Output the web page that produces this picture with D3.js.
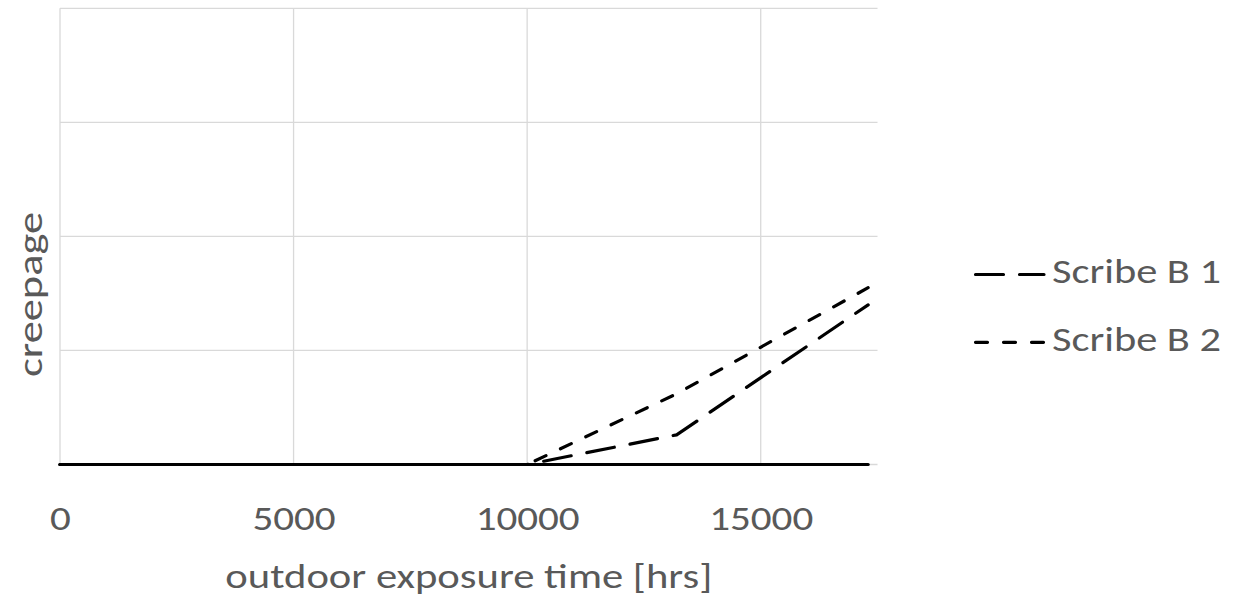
<!DOCTYPE html>
<html>
<head>
<meta charset="utf-8">
<script src="https://cdn.jsdelivr.net/npm/d3@7"></script>
<style>
  html, body { margin: 0; padding: 0; background: #fff; }
  svg { display: block; }
  text { font-family: Carlito, Calibri, Lato, "Open Sans", sans-serif; fill: #595959; }
</style>
</head>
<body>
<svg id="chart" width="1239" height="602"></svg>
<script>
// ---- data ----
const hours = [0, 10000, 13200, 17300];
const scribeB1 = [0, 0, 0.26, 1.40];
const scribeB2 = [0, 0, 0.62, 1.55];
const baseline = [0, 0, 0, 0];
const xTicks = [0, 5000, 10000, 15000];
const yGrid = [0, 1, 2, 3, 4];
const seriesNames = ["Scribe B 1", "Scribe B 2"];

// ---- layout ----
const svg = d3.select("#chart");
const x = d3.scaleLinear().domain([0, 17500]).range([60, 877.5]);
const y = d3.scaleLinear().domain([0, 4]).range([464.5, 8.3]);
const FS = "35.5px";
const digitW = 20.8;

// gridlines
const grid = svg.append("g");
grid.selectAll("line.h").data(yGrid).enter().append("line")
  .attr("x1", x(0)).attr("x2", x(17500))
  .attr("y1", d => y(d)).attr("y2", d => y(d))
  .attr("stroke", "#d9d9d9").attr("stroke-width", 1.3);
grid.selectAll("line.v").data(xTicks).enter().append("line")
  .attr("x1", d => x(d)).attr("x2", d => x(d))
  .attr("y1", y(0)).attr("y2", y(4))
  .attr("stroke", "#d9d9d9").attr("stroke-width", 1.3);

// x axis labels
const fmt = d3.format("d");
const xAxis = d3.axisBottom(x).tickValues(xTicks).tickSize(0).tickPadding(0).tickFormat(fmt);
const gx = svg.append("g").attr("transform", `translate(0,${y(0)})`).call(xAxis);
gx.select(".domain").remove();
gx.selectAll("text")
  .attr("y", 65.5).attr("dy", null)
  .style("font-size", FS).attr("fill", "#595959")
  .attr("textLength", d => fmt(d).length * digitW)
  .attr("lengthAdjust", "spacingAndGlyphs");

// axis titles
svg.append("text")
  .attr("x", (x(0) + x(17500)) / 2).attr("y", 588)
  .attr("text-anchor", "middle").style("font-size", FS)
  .attr("textLength", 487).attr("lengthAdjust", "spacingAndGlyphs")
  .text("outdoor exposure time [hrs]");
svg.append("text")
  .attr("transform", "translate(42,294.5) rotate(-90)")
  .attr("text-anchor", "middle").style("font-size", FS)
  .attr("textLength", 165).attr("lengthAdjust", "spacingAndGlyphs")
  .text("creepage");

// lines
const line = d3.line().x(d => x(d[0])).y(d => y(d[1]));
const zip = arr => hours.map((h, i) => [h, arr[i]]);
const styles = [
  { data: baseline, dash: null },
  { data: scribeB1, dash: "28 16" },
  { data: scribeB2, dash: "12 16" }
];
svg.append("g").selectAll("path").data(styles).enter().append("path")
  .attr("d", d => line(zip(d.data)))
  .attr("fill", "none").attr("stroke", "#000").attr("stroke-width", 3.2)
  .attr("stroke-linecap", "round").attr("stroke-linejoin", "round")
  .attr("stroke-dasharray", d => d.dash);

// legend
const legendY = [274.5, 342.3];
const legendDash = ["28 16", "12 16"];
const lg = svg.append("g");
seriesNames.forEach((name, i) => {
  lg.append("line")
    .attr("x1", 975.5).attr("x2", 1044).attr("y1", legendY[i]).attr("y2", legendY[i])
    .attr("stroke", "#000").attr("stroke-width", 3.2).attr("stroke-linecap", "round")
    .attr("stroke-dasharray", legendDash[i]);
  lg.append("text")
    .attr("x", 1052).attr("y", legendY[i] + 8.5)
    .style("font-size", FS)
    .attr("textLength", 169).attr("lengthAdjust", "spacingAndGlyphs")
    .text(name);
});
</script>
</body>
</html>
